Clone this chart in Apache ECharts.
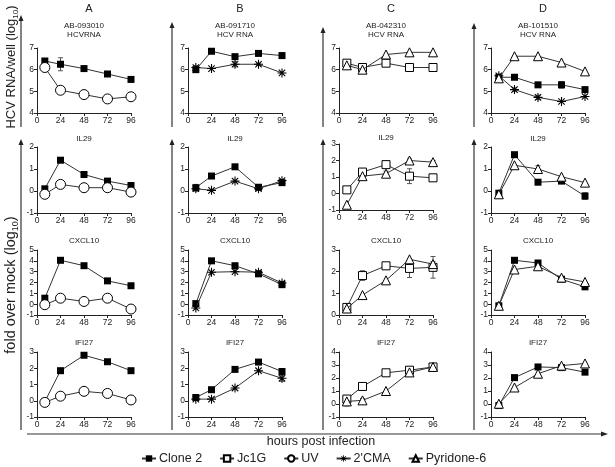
<!DOCTYPE html>
<html>
<head>
<meta charset="utf-8">
<script src="https://cdn.jsdelivr.net/npm/echarts@6/dist/echarts.min.js"></script>
<style>
html,body{margin:0;padding:0;background:#fff;}
#chart{width:615px;height:467px;}
</style>
</head>
<body>
<div id="chart"></div>
<script>
// ---------- data ----------
const hours = [8, 24, 48, 72, 96];
const xTicks = [0, 24, 48, 72, 96];
const columnLetters = ['A', 'B', 'C', 'D'];
const hcvTitles = [['AB-093010', 'HCVRNA'], ['AB-091710', 'HCV RNA'], ['AB-042310', 'HCV RNA'], ['AB-101510', 'HCV RNA']];
const rowTitles = ['IL29', 'CXCL10', 'IFI27'];
const seriesNames = ['Clone 2', 'Jc1G', 'UV', "2'CMA", 'Pyridone-6'];

// Row 1: HCV RNA (log10)
const hcvA_clone2 = [6.4, 6.25, 6.05, 5.8, 5.55];
const hcvA_clone2Err = [0, 0.3, 0, 0, 0.05];
const hcvA_uv = [6.1, 5.05, 4.85, 4.65, 4.75];
const hcvA_uvErr = [0, 0, 0.08, 0.08, 0];
const hcvB_clone2 = [6.0, 6.85, 6.6, 6.75, 6.65];
const hcvB_clone2Err = [0, 0, 0, 0, 0.12];
const hcvB_cma = [6.1, 6.05, 6.25, 6.25, 5.85];
const hcvB_cmaErr = [0.08, 0, 0.12, 0.05, 0];
const hcvC_jc1g = [6.3, 6.1, 6.3, 6.1, 6.1];
const hcvC_jc1gErr = [0, 0.15, 0.1, 0, 0];
const hcvC_pyr = [6.2, 6.0, 6.7, 6.8, 6.8];
const hcvC_pyrErr = [0, 0.15, 0, 0, 0];
const hcvD_clone2 = [5.65, 5.65, 5.3, 5.3, 5.08];
const hcvD_clone2Err = [0, 0.08, 0.08, 0.15, 0];
const hcvD_cma = [5.72, 5.08, 4.72, 4.53, 4.76];
const hcvD_cmaErr = [0, 0.08, 0.1, 0, 0];
const hcvD_pyr = [5.6, 6.62, 6.62, 6.33, 5.92];

// Row 2: IL29
const il29A_clone2 = [0.1, 1.4, 0.75, 0.45, 0.25];
const il29A_uv = [-0.15, 0.3, 0.15, 0.15, -0.05];
const il29B_clone2 = [0.15, 0.68, 1.1, 0.17, 0.38];
const il29B_clone2Err = [0.15, 0, 0, 0, 0];
const il29B_cma = [0.1, 0.03, 0.45, 0.1, 0.47];
const il29C_jc1g = [0.22, 1.3, 1.75, 1.05, 0.95];
const il29C_jc1gErr = [0, 0, 0, 0.45, 0.2];
const il29C_pyr = [-0.68, 1.05, 1.2, 2.0, 1.9];
const il29C_pyrErr = [0, 0, 0.15, 0.1, 0.1];
const il29D_clone2 = [-0.1, 1.65, 0.4, 0.45, -0.23];
const il29D_clone2Err = [0, 0, 0, 0, 0.15];
const il29D_pyr = [-0.15, 1.17, 1.0, 0.65, 0.38];
const il29D_pyrErr = [0, 0, 0.15, 0, 0];

// Row 3: CXCL10
const cxA_clone2 = [0.55, 4.05, 3.55, 2.15, 1.7];
const cxA_uv = [-0.05, 0.55, 0.25, 0.55, -0.45];
const cxA_uvErr = [0, 0, 0, 0.35, 0];
const cxB_clone2 = [0.05, 4.0, 3.55, 2.8, 1.8];
const cxB_cma = [-0.35, 2.95, 3.0, 2.95, 1.95];
const cxC_jc1g = [0.35, 1.82, 2.27, 2.15, 2.2];
const cxC_jc1gErr = [0, 0.22, 0, 0.42, 0.5];
const cxC_pyr = [0.3, 0.92, 1.6, 2.57, 2.35];
const cxC_pyrErr = [0, 0, 0, 0, 0.12];
const cxD_clone2 = [-0.15, 4.05, 3.8, 2.3, 1.6];
const cxD_pyr = [-0.15, 3.2, 3.5, 2.45, 2.05];

// Row 4: IFI27
const ifA_clone2 = [-0.05, 1.85, 2.8, 2.4, 1.85];
const ifA_uv = [-0.1, 0.28, 0.58, 0.45, 0.05];
const ifB_clone2 = [0.2, 0.68, 1.93, 2.38, 1.8];
const ifB_cma = [0.1, 0.1, 0.78, 1.85, 1.38];
const ifB_cmaErr = [0, 0, 0, 0, 0.18];
const ifC_jc1g = [0.38, 1.35, 2.4, 2.6, 2.85];
const ifC_pyr = [0.2, 0.28, 1.0, 2.43, 2.85];
const ifC_pyrErr = [0.35, 0.15, 0, 0, 0];
const ifD_clone2 = [-0.12, 2.03, 2.85, 2.8, 2.45];
const ifD_pyr = [0.02, 1.27, 2.33, 2.95, 3.12];

// y-axis ranges per row/column [min, max]
const yRanges = [
  [[4, 7], [4, 7], [4, 7], [4, 7]],
  [[-1, 2], [-1, 2], [-1, 3], [-1, 2]],
  [[-1, 5], [-1, 5], [0, 3], [-1, 5]],
  [[-1, 3], [-1, 3], [-1, 4], [-1, 4]]
];

// panel contents: [row][col] -> list of [seriesName, values, errors]
const panels = [
  [
    [['Clone 2', hcvA_clone2, hcvA_clone2Err], ['UV', hcvA_uv, hcvA_uvErr]],
    [['Clone 2', hcvB_clone2, hcvB_clone2Err], ["2'CMA", hcvB_cma, hcvB_cmaErr]],
    [['Jc1G', hcvC_jc1g, hcvC_jc1gErr], ['Pyridone-6', hcvC_pyr, hcvC_pyrErr]],
    [['Clone 2', hcvD_clone2, hcvD_clone2Err], ["2'CMA", hcvD_cma, hcvD_cmaErr], ['Pyridone-6', hcvD_pyr, null]]
  ],
  [
    [['Clone 2', il29A_clone2, null], ['UV', il29A_uv, null]],
    [['Clone 2', il29B_clone2, il29B_clone2Err], ["2'CMA", il29B_cma, null]],
    [['Jc1G', il29C_jc1g, il29C_jc1gErr], ['Pyridone-6', il29C_pyr, il29C_pyrErr]],
    [['Clone 2', il29D_clone2, il29D_clone2Err], ['Pyridone-6', il29D_pyr, il29D_pyrErr]]
  ],
  [
    [['Clone 2', cxA_clone2, null], ['UV', cxA_uv, cxA_uvErr]],
    [['Clone 2', cxB_clone2, null], ["2'CMA", cxB_cma, null]],
    [['Jc1G', cxC_jc1g, cxC_jc1gErr], ['Pyridone-6', cxC_pyr, cxC_pyrErr]],
    [['Clone 2', cxD_clone2, null], ['Pyridone-6', cxD_pyr, null]]
  ],
  [
    [['Clone 2', ifA_clone2, null], ['UV', ifA_uv, null]],
    [['Clone 2', ifB_clone2, null], ["2'CMA", ifB_cma, ifB_cmaErr]],
    [['Jc1G', ifC_jc1g, null], ['Pyridone-6', ifC_pyr, ifC_pyrErr]],
    [['Clone 2', ifD_clone2, null], ['Pyridone-6', ifD_pyr, null]]
  ]
];

// ---------- layout & style ----------
const FONT = 'Liberation Sans, Arial, sans-serif';
const colLeft = [37, 188, 339, 491];
const colLineX = [21, 172, 323, 474];
const plotW = 94;
const rowTop = [[48, 48, 48, 48], [147, 147, 144, 147], [250, 250, 250, 250], [352, 352, 352, 352]];
const rowH = [65, 66, 65, 65];
const titleY = [null, 139, 241, 343];

const asterisk = 'path://M-5,-0.6L5,-0.6L5,0.6L-5,0.6Z M0.6,-5L0.6,5L-0.6,5L-0.6,-5Z M-3.11,-3.96L3.96,3.11L3.11,3.96L-3.96,-3.11Z M3.96,-3.11L-3.11,3.96L-3.96,3.11L3.11,-3.96Z';
const symbolStyles = {
  'Clone 2': {symbol: 'rect', symbolSize: 7, itemStyle: {color: '#000', borderColor: '#000', borderWidth: 0}},
  'Jc1G': {symbol: 'rect', symbolSize: 8, itemStyle: {color: '#fff', borderColor: '#000', borderWidth: 1}},
  'UV': {symbol: 'circle', symbolSize: 10, itemStyle: {color: '#fff', borderColor: '#000', borderWidth: 1}},
  "2'CMA": {symbol: asterisk, symbolSize: 9, itemStyle: {color: '#000', borderWidth: 0}},
  'Pyridone-6': {symbol: 'triangle', symbolSize: 9, itemStyle: {color: '#fff', borderColor: '#000', borderWidth: 1}}
};

const grids = [], xAxes = [], yAxes = [], series = [], graphics = [];
let idx = 0;
for (let r = 0; r < 4; r++) {
  for (let c = 0; c < 4; c++) {
    grids.push({left: colLeft[c], top: rowTop[r][c], width: plotW, height: rowH[r], containLabel: false});
    xAxes.push({
      type: 'value', gridIndex: idx, min: xTicks[0], max: xTicks[xTicks.length - 1], interval: 24,
      axisLine: {show: true, onZero: false, lineStyle: {color: '#222', width: 1}},
      axisTick: {show: true, length: 3, lineStyle: {color: '#222'}},
      axisLabel: {fontSize: 8.5, fontFamily: FONT, color: '#222', margin: 3},
      splitLine: {show: false}
    });
    const yr = yRanges[r][c];
    yAxes.push({
      type: 'value', gridIndex: idx, min: yr[0], max: yr[1], interval: 1,
      axisLine: {show: true, onZero: false, lineStyle: {color: '#222', width: 1}},
      axisTick: {show: true, length: 3, lineStyle: {color: '#222'}},
      axisLabel: {fontSize: 8.5, fontFamily: FONT, color: '#222', margin: 3},
      splitLine: {show: false}
    });
    const list = panels[r][c];
    list.forEach(([name, vals, errs], k) => {
      if (errs) {
        series.push({
          type: 'custom', xAxisIndex: idx, yAxisIndex: idx, z: 1, silent: true,
          data: hours.map((h, i) => [h, vals[i], errs[i]]).filter(d => d[2] > 0),
          renderItem: function (params, api) {
            const x = api.value(0), y = api.value(1), e = api.value(2);
            const top = api.coord([x, y + e]);
            const bot = api.coord([x, y - e]);
            const st = {stroke: '#555', lineWidth: 1};
            return {type: 'group', children: [
              {type: 'line', shape: {x1: top[0], y1: top[1], x2: bot[0], y2: bot[1]}, style: st},
              {type: 'line', shape: {x1: top[0] - 2.5, y1: top[1], x2: top[0] + 2.5, y2: top[1]}, style: st},
              {type: 'line', shape: {x1: bot[0] - 2.5, y1: bot[1], x2: bot[0] + 2.5, y2: bot[1]}, style: st}
            ]};
          }
        });
      }
      const s = symbolStyles[name];
      series.push({
        type: 'line', name: name, xAxisIndex: idx, yAxisIndex: idx, z: 2 + k,
        data: hours.map((h, i) => [h, vals[i]]),
        symbol: s.symbol, symbolSize: s.symbolSize, showAllSymbol: true,
        itemStyle: s.itemStyle,
        lineStyle: {color: '#333', width: 1},
        emphasis: {disabled: true}
      });
    });
    // panel titles
    const cx = colLeft[c] + plotW / 2;
    if (r === 0) {
      graphics.push({type: 'text', x: cx, y: 26, style: {text: hcvTitles[c][0], font: '8px ' + FONT, fill: '#222', align: 'center', verticalAlign: 'middle'}});
      graphics.push({type: 'text', x: cx, y: 35, style: {text: hcvTitles[c][1], font: '8px ' + FONT, fill: '#222', align: 'center', verticalAlign: 'middle'}});
      graphics.push({type: 'text', x: cx + 5, y: 9, style: {text: columnLetters[c], font: '11px ' + FONT, fill: '#222', align: 'center', verticalAlign: 'middle'}});
    } else {
      graphics.push({type: 'text', x: cx, y: titleY[r] - (r === 1 && c === 2 ? 1 : 0), style: {text: rowTitles[r - 1], font: '8px ' + FONT, fill: '#222', align: 'center', verticalAlign: 'middle'}});
    }
    idx++;
  }
}

// frame arrows
const frameStroke = {stroke: '#333', lineWidth: 1.2};
const upperTip = [15, 22, 27, 23];
colLineX.forEach((x, c) => {
  graphics.push({type: 'line', shape: {x1: x, y1: upperTip[c] + 4, x2: x, y2: 127}, style: frameStroke});
  graphics.push({type: 'polygon', shape: {points: [[x, upperTip[c]], [x - 2.5, upperTip[c] + 6], [x + 2.5, upperTip[c] + 6]]}, style: {fill: '#222'}});
  graphics.push({type: 'line', shape: {x1: x, y1: 143, x2: x, y2: 430}, style: frameStroke});
  graphics.push({type: 'polygon', shape: {points: [[x, 139], [x - 2.5, 145], [x + 2.5, 145]]}, style: {fill: '#222'}});
});
graphics.push({type: 'line', shape: {x1: 27, y1: 434, x2: 603, y2: 434}, style: frameStroke});
graphics.push({type: 'polygon', shape: {points: [[608, 434], [601, 431.5], [601, 436.5]]}, style: {fill: '#222'}});

// axis titles
graphics.push({type: 'text', x: 11, y: 67, rotation: Math.PI / 2,
  style: {text: '{a|HCV RNA/well (log}{s|10}{a|)}', align: 'center', verticalAlign: 'middle', fill: '#222',
    rich: {a: {fontSize: 13, fontFamily: FONT, lineHeight: 18, verticalAlign: 'middle', fill: '#222'},
           s: {fontSize: 8, fontFamily: FONT, lineHeight: 8, verticalAlign: 'bottom', fill: '#222'}}}});
graphics.push({type: 'text', x: 11, y: 285, rotation: Math.PI / 2,
  style: {text: '{a|fold over mock (log}{s|10}{a|)}', align: 'center', verticalAlign: 'middle', fill: '#222',
    rich: {a: {fontSize: 14.5, fontFamily: FONT, lineHeight: 19, verticalAlign: 'middle', fill: '#222'},
           s: {fontSize: 9, fontFamily: FONT, lineHeight: 9, verticalAlign: 'bottom', fill: '#222'}}}});
graphics.push({type: 'text', x: 321, y: 442, style: {text: 'hours post infection', font: '12.5px ' + FONT, fill: '#222', align: 'center', verticalAlign: 'middle'}});

const chart = echarts.init(document.getElementById('chart'), null, {renderer: 'canvas'});
chart.setOption({
  animation: false,
  backgroundColor: '#fff',
  grid: grids,
  xAxis: xAxes,
  yAxis: yAxes,
  series: series,
  legend: {
    data: seriesNames, left: 136, top: 447, itemWidth: 14, itemHeight: 8, itemGap: 17,
    selectedMode: false,
    textStyle: {fontSize: 12.5, fontFamily: FONT, color: '#222', padding: [0, 0, 0, -2]}
  },
  graphic: graphics
});
</script>
</body>
</html>
